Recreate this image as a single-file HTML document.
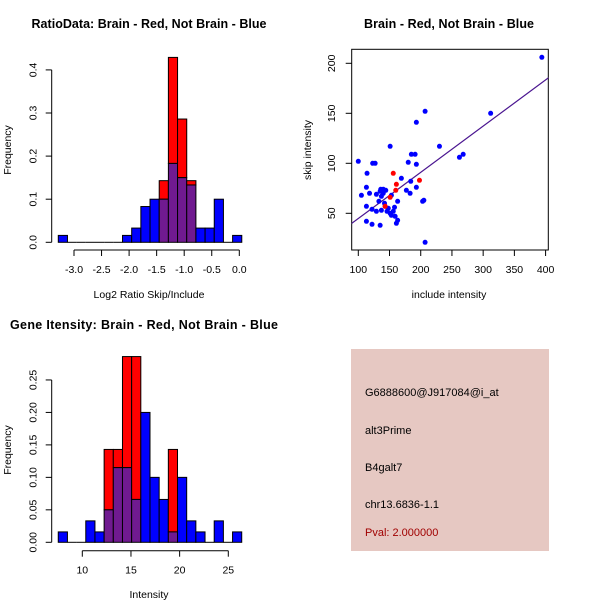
<!DOCTYPE html>
<html><head><meta charset="utf-8"><style>
html,body{margin:0;padding:0;background:#fff}
svg{display:block;font-family:"Liberation Sans",sans-serif}
</style></head><body>
<svg id="c" width="600" height="600" xmlns="http://www.w3.org/2000/svg">
<rect x="351" y="349" width="198" height="202" fill="#e6c8c2"/>
<text x="365" y="396" font-size="11">G6888600@J917084@i_at</text>
<text x="365" y="434" font-size="11">alt3Prime</text>
<text x="365" y="471" font-size="11">B4galt7</text>
<text x="365" y="508" font-size="11">chr13.6836-1.1</text>
<text x="365" y="536" font-size="11" fill="#a00000">Pval: 2.000000</text>
</svg>
<script>
// Ratio histogram (20 bins from -3.285, width 0.1665)
const ratioBlue = [0.016,0,0,0,0,0,0,0.016,0.033,0.083,0.1,0.1,0.183,0.15,0.133,0.033,0.033,0.1,0,0.016];
const ratioRed  = [0,0,0,0,0,0,0,0,0,0,0,0.143,0.429,0.286,0.143,0,0,0,0,0];
const ratioStart = -3.285, ratioWidth = 0.1665;
const ratioXTicks = ["-3.0","-2.5","-2.0","-1.5","-1.0","-0.5","0.0"];
const ratioYTicks = ["0.0","0.1","0.2","0.3","0.4"];
// Intensity histogram (20 bins from 7.53, width 0.9425)
const intBlue = [0.016,0,0,0.033,0.016,0.05,0.115,0.115,0.066,0.2,0.1,0.066,0.016,0.1,0.033,0.016,0,0.033,0,0.016];
const intRed  = [0,0,0,0,0,0.143,0.143,0.286,0.286,0,0,0,0.143,0,0,0,0,0,0,0];
const intStart = 7.53, intWidth = 0.9425;
const intXTicks = ["10","15","20","25"];
const intYTicks = ["0.00","0.05","0.10","0.15","0.20","0.25"];
// Scatter
const blueInclude = [394,207,312,193,151,230,100,123,127,185,191,180,193,262,268,114,169,184,113,193,105,118,129,177,183,136,203,205,163,113,133,122,129,113,122,135,161,163,207,158,137,140,142,143,146,151,156,153,140,144,135,137,148,159,153];
const blueSkip    = [206,152,150,141,117,117,102,100,100,109,109,101,99,106,109,90,85,82,76,76,68,70,69,73,70,74,62,63,62,57,62,54,52,42,39,38,40,43,21,56,67,70,60,57,52,50,52,68,74,73,72,53,55,47,48];
const redInclude  = [156,161,160,151,198,143];
const redSkip     = [90,79,73,66,83,57];
const fitIntercept = -1.4, fitSlope = 0.462;
const scatXTicks = ["100","150","200","250","300","350","400"];
const scatYTicks = ["50","100","150","200"];

const NS="http://www.w3.org/2000/svg", svg=document.getElementById('c');
const FS=10.5;
function mk(tag,attrs,parent){const e=document.createElementNS(NS,tag);for(const k in attrs)e.setAttribute(k,attrs[k]);(parent||svg).appendChild(e);return e;}
function txt(s,x,y,attrs){const t=mk('text',Object.assign({x:x,y:y,'font-size':FS,'text-anchor':'middle'},attrs||{}));t.textContent=s;return t;}

function axes(g,xs,ys,xTicks,yTicks,xAxisY,yAxisX){
  const xv=xTicks.map(Number), yv=yTicks.map(Number);
  mk('line',{x1:xs(xv[0]),x2:xs(xv[xv.length-1]),y1:xAxisY,y2:xAxisY,stroke:'#000'},g);
  xTicks.forEach((t,i)=>{
    mk('line',{x1:xs(xv[i]),x2:xs(xv[i]),y1:xAxisY,y2:xAxisY+6,stroke:'#000'},g);
    const e=txt(t,xs(xv[i]),xAxisY+23);
    
    
  });
  mk('line',{x1:yAxisX,x2:yAxisX,y1:ys(yv[0]),y2:ys(yv[yv.length-1]),stroke:'#000'},g);
  yTicks.forEach((t,i)=>{
    const y=ys(yv[i]);
    mk('line',{x1:yAxisX-6,x2:yAxisX,y1:y,y2:y,stroke:'#000'},g);
    const e=txt(t,0,0,{transform:'translate('+(yAxisX-15)+','+y+') rotate(-90)'});
    
    
  });
}

function hist(blue,red,start,w,xs,ys,xTicks,yTicks,xAxisY,yAxisX,name){
  const g=mk('g',{});
  
  
  for(let i=0;i<blue.length;i++){
    const x0=xs(start+i*w),x1=xs(start+(i+1)*w);
    const b=blue[i],r=red[i],m=Math.min(b,r);
    const segs=[];
    if(r>b) segs.push([b,r,'#ff0000']);
    if(b>r) segs.push([r,b,'#0000ff']);
    if(m>0) segs.push([0,m,'#701a90']);
    for(const s of segs){
      const rc=mk('rect',{x:x0,y:ys(s[1]),width:x1-x0,height:ys(s[0])-ys(s[1]),fill:s[2],stroke:'#000','stroke-width':1},g);
      
      
    }
    if(b===0&&r===0) mk('line',{x1:x0,x2:x1,y1:ys(0),y2:ys(0),stroke:'#000'},g);
  }
  axes(g,xs,ys,xTicks,yTicks,xAxisY,yAxisX);
}

function label(s,x,y,name,attrs){
  const t=txt(s,x,y,attrs);
  
  
}

// Top-left histogram
{
  const xs=v=>74+(v+3)*55.1, ys=v=>242.3-v*431;
  hist(ratioBlue,ratioRed,ratioStart,ratioWidth,xs,ys,ratioXTicks,ratioYTicks,250,51.7,'ratio-histogram');
  label('RatioData: Brain - Red, Not Brain - Blue',149,28,'ratio-title',{'font-weight':'bold','font-size':12.5,textLength:235});
  label('Log2 Ratio Skip/Include',149,298,'ratio-x-axis-title');
  label('Frequency',0,0,'ratio-y-axis-title',{transform:'translate(11,150) rotate(-90)'});
}
// Bottom-left histogram
{
  const xs=v=>82.3+(v-10)*9.733, ys=v=>542.3-v*649.4;
  hist(intBlue,intRed,intStart,intWidth,xs,ys,intXTicks,intYTicks,550.7,51.7,'intensity-histogram');
  label('Gene Itensity: Brain - Red, Not Brain - Blue',144,329,'intensity-title',{'font-weight':'bold','font-size':12.5,textLength:268});
  label('Intensity',149,598,'intensity-x-axis-title');
  label('Frequency',0,0,'intensity-y-axis-title',{transform:'translate(11,450) rotate(-90)'});
}
// Scatter
{
  const xs=v=>358.3+(v-100)*0.6243, ys=v=>213.3-(v-50)*1.0;
  const g=mk('g',{});
  
  
  mk('rect',{x:351.7,y:49.3,width:196.6,height:200.7,fill:'none',stroke:'#000'},g);
  const cp=mk('clipPath',{id:'sc'},g);
  mk('rect',{x:351.7,y:49.3,width:196.6,height:200.7},cp);
  const x0=80,x1=420;
  const fl=mk('line',{x1:xs(x0),y1:ys(fitIntercept+fitSlope*x0),x2:xs(x1),y2:ys(fitIntercept+fitSlope*x1),stroke:'#4a1590','stroke-width':1.2,'clip-path':'url(#sc)'},g);
  
  
  for(let i=0;i<blueInclude.length;i++){
    const c=mk('circle',{cx:xs(blueInclude[i]),cy:ys(blueSkip[i]),r:2.5,fill:'#0000ff'},g);
    
    
  }
  for(let i=0;i<redInclude.length;i++){
    const c=mk('circle',{cx:xs(redInclude[i]),cy:ys(redSkip[i]),r:2.5,fill:'#ff0000'},g);
    
    
  }
  const xv=scatXTicks.map(Number), yv=scatYTicks.map(Number);
  scatXTicks.forEach((t,i)=>{
    mk('line',{x1:xs(xv[i]),x2:xs(xv[i]),y1:250,y2:256,stroke:'#000'},g);
    label(t,xs(xv[i]),273,'x-tick-label');
  });
  scatYTicks.forEach((t,i)=>{
    const y=ys(yv[i]);
    mk('line',{x1:345.7,x2:351.7,y1:y,y2:y,stroke:'#000'},g);
    label(t,0,0,'y-tick-label',{transform:'translate(335,'+y+') rotate(-90)'});
  });
  label('Brain - Red, Not Brain - Blue',449,28,'scatter-title',{'font-weight':'bold','font-size':12.5,textLength:170});
  label('include intensity',449,298,'scatter-x-axis-title');
  label('skip intensity',0,0,'scatter-y-axis-title',{transform:'translate(311,150) rotate(-90)'});
}
</script>
</body></html>
